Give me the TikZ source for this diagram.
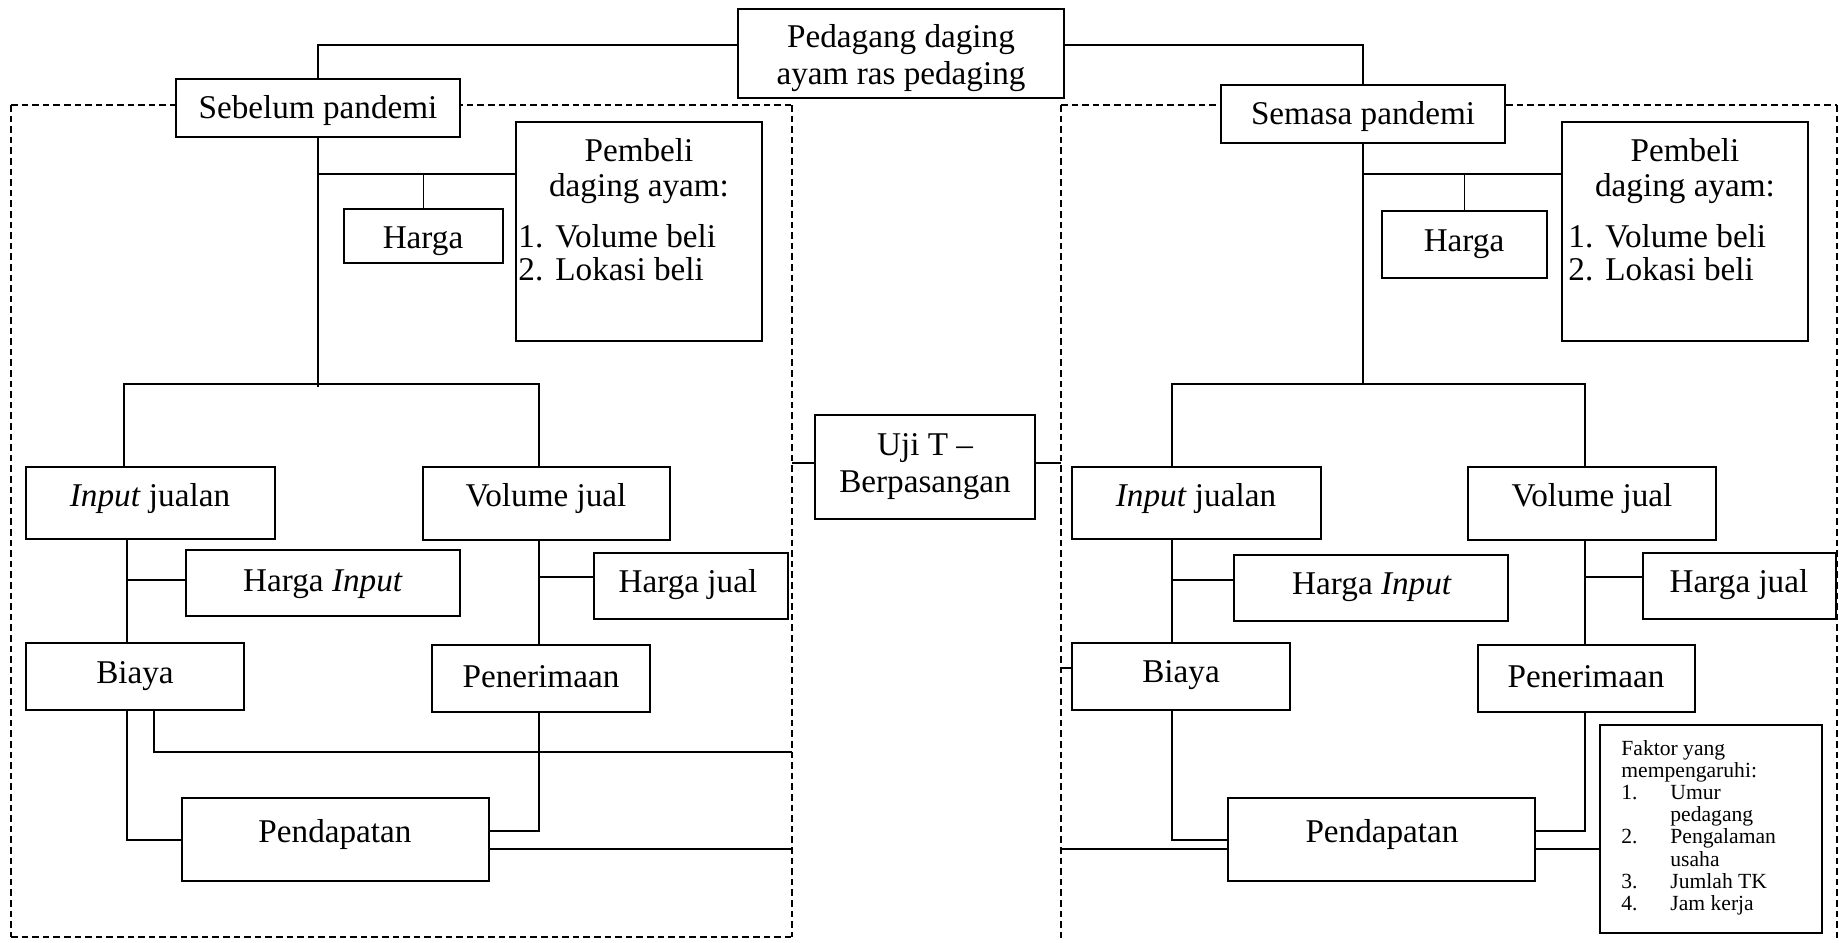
\documentclass[tikz,border=0pt]{standalone}
\usepackage{fontspec}
\setmainfont{Liberation Serif}
\usetikzlibrary{fit,calc}
\begin{document}
\begin{tikzpicture}[x=0.5pt,y=-0.5pt,
  box/.style={draw, line width=1.2pt, fill=white, inner sep=0pt},
  txt/.style={inner sep=0pt, align=center, font=\fontsize{16.6}{18.5}\selectfont},
  small/.style={inner sep=0pt, font=\fontsize{10.8}{11.1}\selectfont},
  conn/.style={line width=0.6pt},
  hdash/.style={line width=0.7pt, dash pattern=on 3.3pt off 2pt},
  vdash/.style={line width=0.7pt, dash pattern=on 3.3pt off 2pt}]
\useasboundingbox (0,0) rectangle (1839,942);
% dashed frames
\draw[hdash] (11,105) -- (792,105);
\draw[hdash] (11,937) -- (792,937);
\draw[vdash] (11,105) -- (11,937);
\draw[vdash] (792,105) -- (792,937);
\draw[hdash] (1061,105) -- (1837,105);
\draw[vdash] (1061,105) -- (1061,942);
\draw[vdash] (1837,105) -- (1837,942);
% boxes
\node[box, fit={(738,9) (1064,98)}] (top) {};
\node[box, fit={(176,79) (460,137)}] (seb) {};
\node[box, fit={(1221,85) (1505,143)}] (sem) {};
\node[box, fit={(516,122) (762,341)}] (pemL) {};
\node[box, fit={(1562,122) (1808,341)}] (pemR) {};
\node[box, fit={(344,209) (503,263)}] (hgL) {};
\node[box, fit={(1382,211) (1547,278)}] (hgR) {};
\node[box, fit={(815,415) (1035,519)}] (uji) {};
\node[box, fit={(26,467) (275,539)}] (ijL) {};
\node[box, fit={(423,467) (670,540)}] (vjL) {};
\node[box, fit={(186,550) (460,616)}] (hiL) {};
\node[box, fit={(594,553) (788,619)}] (hjL) {};
\node[box, fit={(26,643) (244,710)}] (biL) {};
\node[box, fit={(432,645) (650,712)}] (peL) {};
\node[box, fit={(182,798) (489,881)}] (pdL) {};
\node[box, fit={(1072,467) (1321,539)}] (ijR) {};
\node[box, fit={(1468,467) (1716,540)}] (vjR) {};
\node[box, fit={(1234,555) (1508,621)}] (hiR) {};
\node[box, fit={(1643,553) (1836,619)}] (hjR) {};
\node[box, fit={(1072,643) (1290,710)}] (biR) {};
\node[box, fit={(1478,645) (1695,712)}] (peR) {};
\node[box, fit={(1228,798) (1535,881)}] (pdR) {};
\node[box, fit={(1600,725) (1822,933)}] (fk) {};
% helper coordinates
\coordinate (bL1) at (124,384);
\coordinate (bL2) at (539,384);
\coordinate (bR1) at (1172,384);
\coordinate (bR2) at (1585,384);
\coordinate (fL1) at (792,752);
\coordinate (fL2) at (792,849);
\coordinate (fL3) at (792,463);
\coordinate (fR3) at (1061,463);
\coordinate (fR1) at (1061,668);
\coordinate (fR2) at (1061,849);
% connectors left
\draw[conn] (top.west |- 0,45) -| (seb.north);
\draw[conn] (top.east |- 0,45) -| (sem.north);
\draw[conn] (seb.south) -- (seb.south |- 0,387);
\draw[conn] (seb.south |- 0,174) -- (pemL.west |- 0,174);
\draw[conn] (hgL.north) -- (hgL.north |- 0,174);
\draw[conn] (ijL.north -| bL1) -- (bL1) -- (bL2) -- (vjL.north -| bL2);
\draw[conn] (ijL.south -| 127,0) -- (biL.north -| 127,0);
\draw[conn] (127,580) -- (hiL.west |- 0,580);
\draw[conn] (vjL.south -| bL2) -- (peL.north -| bL2);
\draw[conn] (bL2 |- 0,577) -- (hjL.west |- 0,577);
\draw[conn] (biL.south -| 154,0) |- (fL1);
\draw[conn] (biL.south -| 127,0) |- (pdL.west |- 0,840);
\draw[conn] (peL.south -| bL2) |- (pdL.east |- 0,831);
\draw[conn] (pdL.east |- fL2) -- (fL2);
\draw[conn] (fL3) -- (uji.west |- fL3);
\draw[conn] (uji.east |- fR3) -- (fR3);
% connectors right
\draw[conn] (sem.south) -- (sem.south |- 0,384);
\draw[conn] (sem.south |- 0,174) -- (pemR.west |- 0,174);
\draw[conn] (hgR.north) -- (hgR.north |- 0,174);
\draw[conn] (ijR.north -| bR1) -- (bR1) -- (bR2) -- (vjR.north -| bR2);
\draw[conn] (ijR.south -| bR1) -- (biR.north -| bR1);
\draw[conn] (bR1 |- 0,580) -- (hiR.west |- 0,580);
\draw[conn] (vjR.south -| bR2) -- (peR.north -| bR2);
\draw[conn] (bR2 |- 0,577) -- (hjR.west |- 0,577);
\draw[conn] (fR1) -- (biR.west |- fR1);
\draw[conn] (biR.south -| bR1) |- (pdR.west |- 0,840);
\draw[conn] (fR2) -- (pdR.west |- fR2);
\draw[conn] (peR.south -| bR2) |- (pdR.east |- 0,831);
\draw[conn] (pdR.east |- 0,849) -- (fk.west |- 0,849);
% texts
\node[txt] (top-t) at (901,58) {Pedagang daging\\ayam ras pedaging};
\node[txt] (seb-t) at (318,111) {Sebelum pandemi};
\node[txt] (sem-t) at (1363,117) {Semasa pandemi};
\node[txt] (hgL-t) at (423,241) {Harga};
\node[txt] (hgR-t) at (1464,244) {Harga};
\node[txt, font=\fontsize{16.6}{17.5}\selectfont] (pemL-t) at (639,171) {Pembeli\\daging ayam:};
\node[txt, font=\fontsize{16.6}{17.5}\selectfont] (pemR-t) at (1685,171) {Pembeli\\daging ayam:};
\node[txt, anchor=base west, font=\fontsize{16.6}{16.5}\selectfont] (pemL-l) at (518,247)
  {\begin{tabular}[t]{@{}p{18.5pt}@{}l@{}}1.&Volume beli\\2.&Lokasi beli\end{tabular}};
\node[txt, anchor=base west, font=\fontsize{16.6}{16.5}\selectfont] (pemR-l) at (1568,247)
  {\begin{tabular}[t]{@{}p{18.5pt}@{}l@{}}1.&Volume beli\\2.&Lokasi beli\end{tabular}};
\node[txt] (uji-t) at (925,467) {Uji T \textendash\\Berpasangan};
\node[txt] (ijL-t) at (150,499) {\textit{Input} jualan};
\node[txt] (vjL-t) at (546,499) {Volume jual};
\node[txt] (hiL-t) at (323,584) {Harga \textit{Input}};
\node[txt] (hjL-t) at (688,585) {Harga jual};
\node[txt] (biL-t) at (135,676) {Biaya};
\node[txt] (peL-t) at (541,677) {Penerimaan};
\node[txt] (pdL-t) at (335,834) {Pendapatan};
\node[txt] (ijR-t) at (1196,499) {\textit{Input} jualan};
\node[txt] (vjR-t) at (1592,499) {Volume jual};
\node[txt] (hiR-t) at (1372,587) {Harga \textit{Input}};
\node[txt] (hjR-t) at (1739,585) {Harga jual};
\node[txt] (biR-t) at (1181,675) {Biaya};
\node[txt] (peR-t) at (1586,677) {Penerimaan};
\node[txt] (pdR-t) at (1382,834) {Pendapatan};
\node[small, anchor=base west] (fk-t) at (1621,755)
  {\begin{tabular}[t]{@{}p{24.5pt}@{}l@{}}\multicolumn{2}{@{}l@{}}{Faktor yang}\\\multicolumn{2}{@{}l@{}}{mempengaruhi:}\\1.&Umur\\&pedagang\\2.&Pengalaman\\&usaha\\3.&Jumlah TK\\4.&Jam kerja\end{tabular}};
\end{tikzpicture}
\end{document}
